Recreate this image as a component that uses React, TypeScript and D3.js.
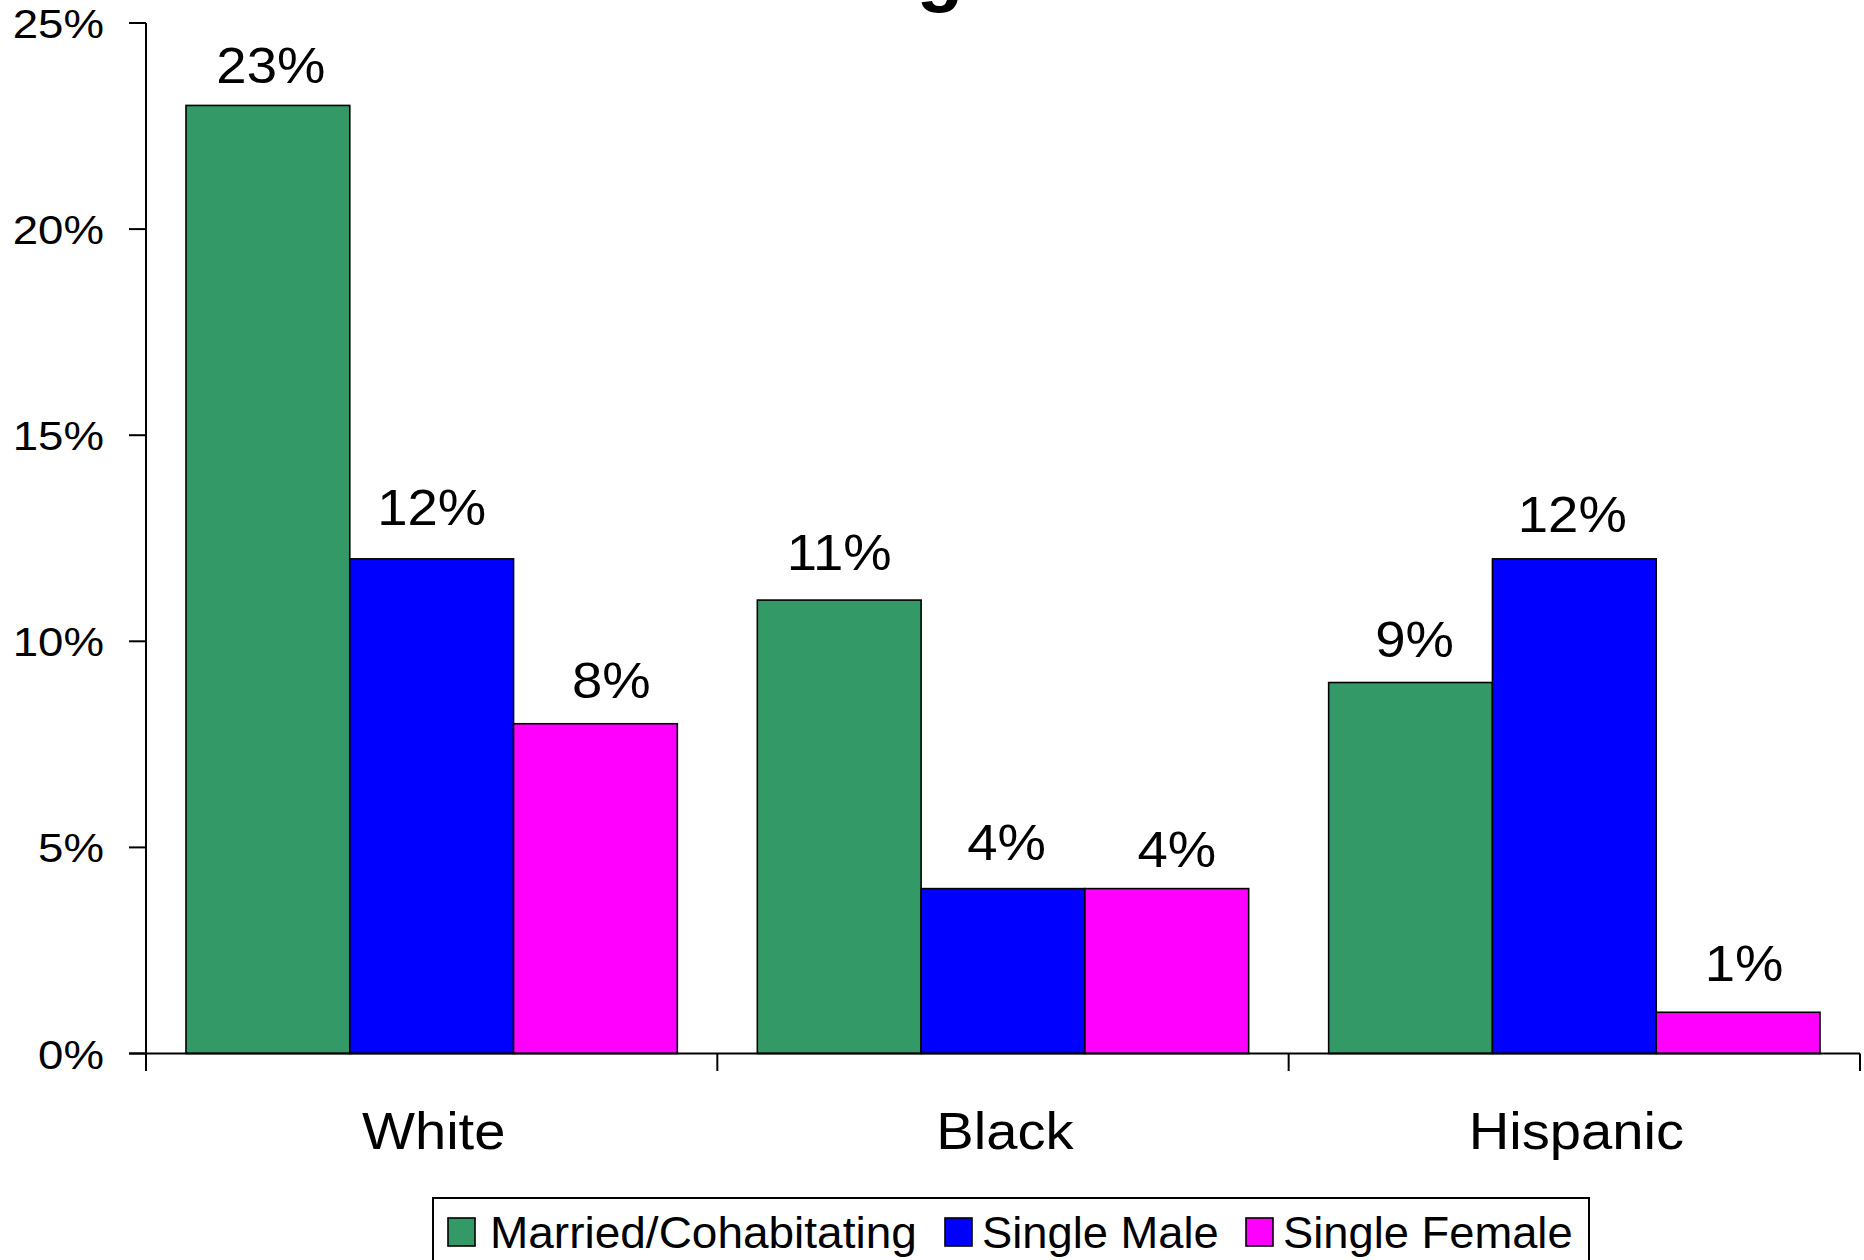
import React from "react";
import * as d3 from "d3";

const categories = ["White", "Black", "Hispanic"];
const seriesNames = ["Married/Cohabitating", "Single Male", "Single Female"];
const seriesColors = ["#339966", "#0000FF", "#FF00FF"];
const married = [23, 11, 9];
const singleMale = [12, 4, 12];
const singleFemale = [8, 4, 1];
const yTicks = [0, 5, 10, 15, 20, 25];

// small per-label nudges [dx, gap above bar], indexed [series][category]
const labelShift = [
  [[3, 22], [0, 30], [4, 26]],
  [[0, 34], [3.5, 28.6], [-2, 27]],
  [[16, 26], [10, 22], [6, 31]],
];

const W = 1864;
const H = 1260;
const FONT = "'Liberation Sans', Arial, Helvetica, sans-serif";

function T(props: {
  x: number;
  y: number;
  size: number;
  sx?: number;
  anchor?: string;
  weight?: string | number;
  children: React.ReactNode;
}) {
  const { x, y, size, sx = 1, anchor = "middle", weight = "normal", children } = props;
  return (
    <text
      transform={`translate(${x},${y}) scale(${sx},1)`}
      textAnchor={anchor as any}
      fontSize={size}
      fontFamily={FONT}
      fontWeight={weight as any}
      fill="#000"
    >
      {children}
    </text>
  );
}

export default function App() {
  const series = [married, singleMale, singleFemale];
  const y = d3.scaleLinear().domain([0, 25]).range([1053.5, 23]);
  const x0 = d3.scaleBand<string>().domain(categories).range([146, 1860]).padding(0);
  const step = x0.bandwidth();
  const x1 = d3
    .scaleBand<string>()
    .domain(seriesNames)
    .range([40, step - 40])
    .padding(0);
  const y0 = y(0);

  const legendX = [448, 945, 1246];
  const legendTextX = [490, 982, 1283];
  const legendSx = [1.045, 1.03, 1.03];

  return (
    <svg
      width={W}
      height={H}
      style={{ position: "absolute", left: 0, top: 0, background: "#fff" }}
    >
      <rect x={0} y={0} width={W} height={H} fill="#fff" />
      {/* clipped title remnant */}
      <T x={940} y={-3} size={76} weight="bold">g</T>

      {/* bars */}
      {categories.map((c, ci) => (
        <g key={c} transform={`translate(${x0(c)},0)`}>
          {seriesNames.map((s, si) => {
            const v = series[si][ci];
            const bx = x1(s)!;
            const bw = x1.bandwidth();
            const [dx, gap] = labelShift[si][ci];
            return (
              <g key={s}>
                <rect
                  x={bx}
                  y={y(v)}
                  width={bw}
                  height={y0 - y(v)}
                  fill={seriesColors[si]}
                  stroke="#000"
                  strokeWidth={1.6}
                />
                <T x={bx + bw / 2 + dx} y={y(v) - gap} size={50} sx={1.09}>
                  {v + "%"}
                </T>
              </g>
            );
          })}
        </g>
      ))}

      {/* y axis */}
      <line x1={146} x2={146} y1={y(25)} y2={1071} stroke="#000" strokeWidth={2} />
      {yTicks.map((t) => (
        <g key={t}>
          <line x1={129} x2={146} y1={y(t)} y2={y(t)} stroke="#000" strokeWidth={2} />
          <T x={104} y={y(t) + 15} size={40} sx={1.14} anchor="end">
            {t + "%"}
          </T>
        </g>
      ))}

      {/* x axis */}
      <line x1={129} x2={1860} y1={y0} y2={y0} stroke="#000" strokeWidth={2} />
      {categories.map((c) => (
        <line
          key={c}
          x1={x0(c)! + step}
          x2={x0(c)! + step}
          y1={y0}
          y2={1071}
          stroke="#000"
          strokeWidth={2}
        />
      ))}
      {categories.map((c) => (
        <T key={c} x={x0(c)! + step / 2 + 2} y={1149} size={52.5} sx={1.07}>
          {c}
        </T>
      ))}

      {/* legend */}
      <rect x={433} y={1198} width={1156} height={80} fill="#fff" stroke="#000" strokeWidth={2} />
      {seriesNames.map((s, si) => (
        <g key={s}>
          <rect
            x={legendX[si]}
            y={1218}
            width={27}
            height={28}
            fill={seriesColors[si]}
            stroke="#000"
            strokeWidth={1.6}
          />
          <T x={legendTextX[si]} y={1248} size={44} sx={legendSx[si]} anchor="start">
            {s}
          </T>
        </g>
      ))}
    </svg>
  );
}
